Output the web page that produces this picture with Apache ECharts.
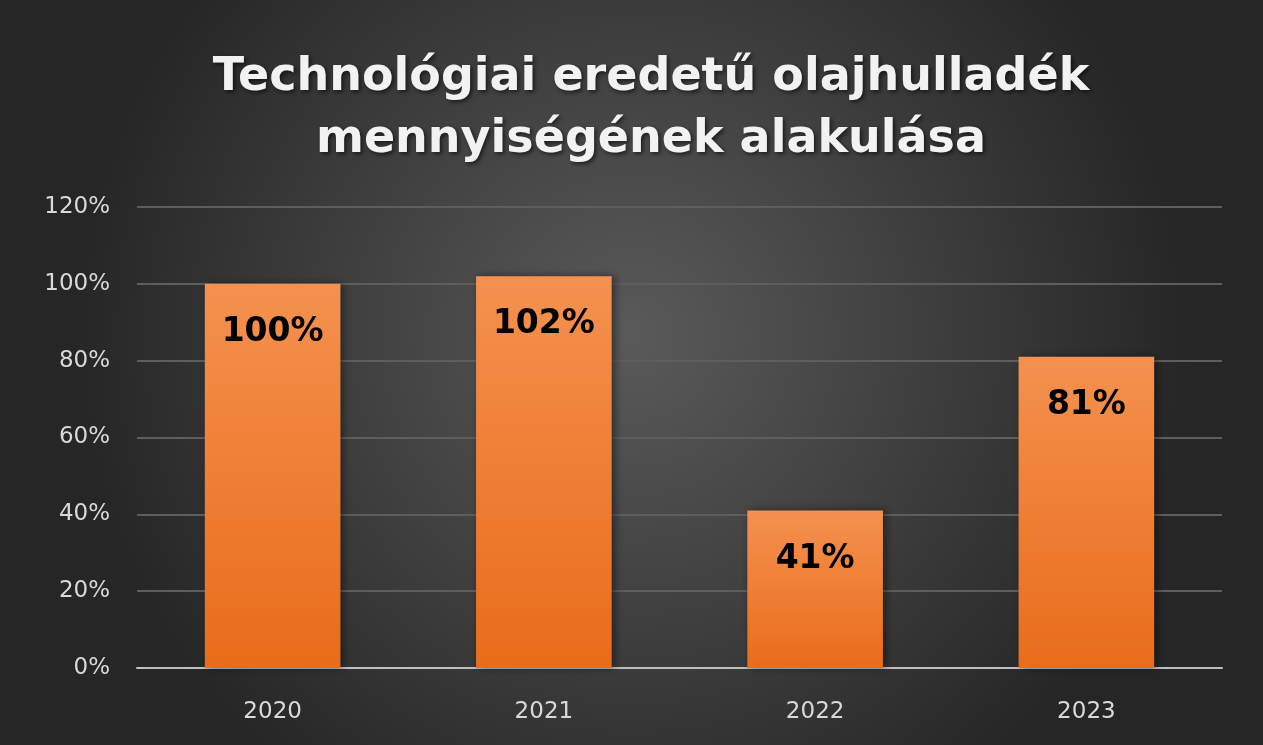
<!DOCTYPE html>
<html>
<head>
  <meta charset="utf-8">
  <title>olajhulladek</title>
  <script src="https://cdn.jsdelivr.net/npm/echarts@6/dist/echarts.min.js"></script>
  <style>
    html, body { margin: 0; padding: 0; }
    #main { width: 1263px; height: 745px; }
  </style>
</head>
<body>
  <div id="main"></div>
  <script type="text/javascript">
    // adatok
    var years = ['2020', '2021', '2022', '2023']
    var values = [100, 102, 41, 81]
    var yTicks = [0, 20, 40, 60, 80, 100, 120]

    var myChart = echarts.init(document.getElementById('main'))

    var option = {
      backgroundColor: {
        type: 'radial', x: 0.5, y: 0.45, r: 0.75,
        colorStops: [
          { offset: 0, color: '#5a5a5a' },
          { offset: 1, color: '#262626' }
        ]
      },
      title: {
        text: 'Technológiai eredetű olajhulladék\nmennyiségének alakulása',
        left: 646,
        top: 42,
        textAlign: 'center',
        textStyle: {
          color: '#f2f2f2',
          fontFamily: 'DejaVu Sans',
          fontWeight: 'bold',
          fontSize: 46,
          lineHeight: 62,
          textShadowColor: 'rgba(0,0,0,0.6)',
          textShadowBlur: 4,
          textShadowOffsetX: 2,
          textShadowOffsetY: 2
        }
      },
      grid: {
        left: 137,
        right: 41,
        top: 207,
        bottom: 77
      },
      xAxis: {
        type: 'category',
        data: years,
        axisLine: { lineStyle: { color: '#bfbfbf', width: 2 } },
        axisTick: { show: false },
        axisLabel: {
          color: '#d9d9d9',
          fontFamily: 'DejaVu Sans',
          fontSize: 23,
          margin: 33
        }
      },
      yAxis: {
        type: 'value',
        min: yTicks[0],
        max: yTicks[yTicks.length - 1],
        interval: 20,
        axisLine: { show: false },
        axisTick: { show: false },
        splitLine: { lineStyle: { color: '#5e5e5e', width: 2 } },
        axisLabel: {
          formatter: '{value}%',
          color: '#d9d9d9',
          fontFamily: 'DejaVu Sans',
          fontSize: 23,
          margin: 27
        }
      },
      series: [{
        type: 'bar',
        data: values,
        barWidth: '50%',
        itemStyle: {
          color: {
            type: 'linear', x: 0, y: 0, x2: 0, y2: 1,
            colorStops: [
              { offset: 0, color: '#f4914f' },
              { offset: 1, color: '#e96c1a' }
            ]
          },
          shadowColor: 'rgba(0,0,0,0.45)',
          shadowBlur: 8,
          shadowOffsetX: 3,
          shadowOffsetY: 0
        },
        label: {
          show: true,
          position: 'insideTop',
          distance: 32,
          formatter: '{c}%',
          color: '#000000',
          fontFamily: 'DejaVu Sans',
          fontWeight: 'bold',
          fontSize: 33
        }
      }]
    }

    myChart.setOption(option)
  </script>
</body>
</html>
